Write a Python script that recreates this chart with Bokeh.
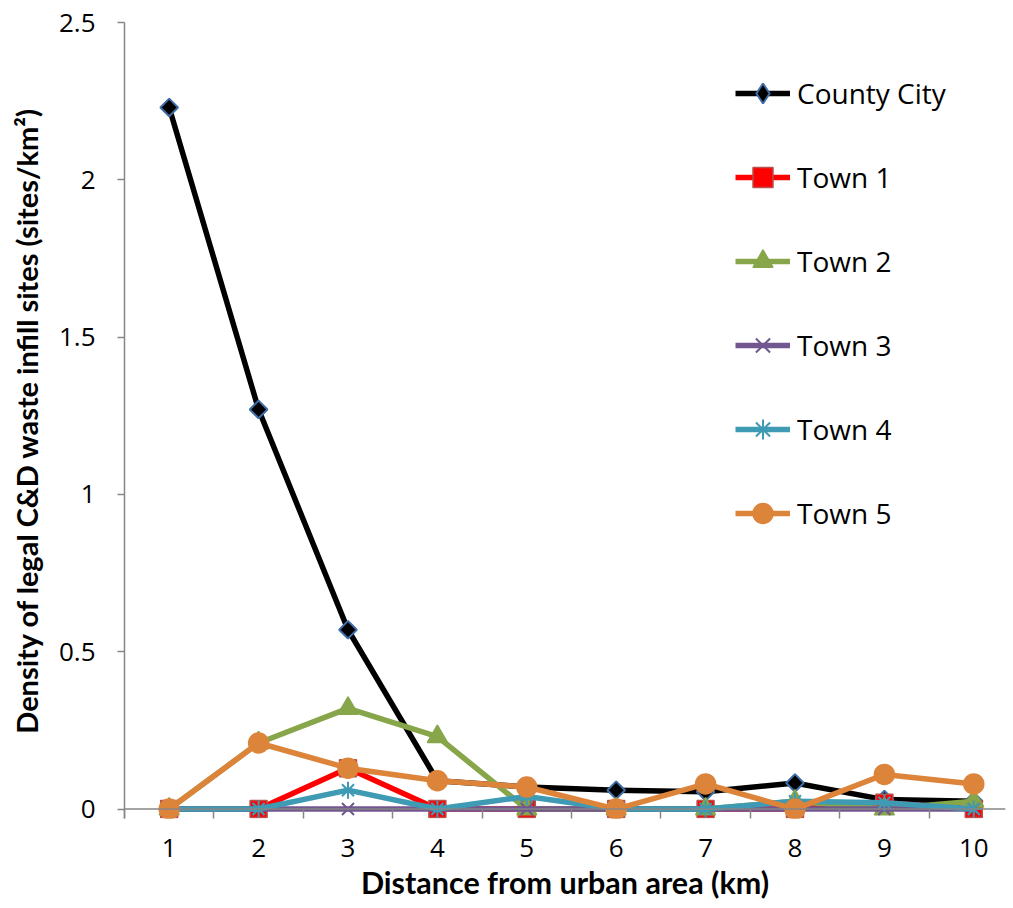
import math
from bokeh.plotting import figure
from bokeh.models import FixedTicker, Legend, LegendItem, Range1d, Span
from bokeh.embed import file_html
from bokeh.resources import INLINE

distance = [1, 2, 3, 4, 5, 6, 7, 8, 9, 10]
county_city = [2.23, 1.27, 0.57, 0.09, 0.07, 0.06, 0.055, 0.083, 0.03, 0.025]
town1 = [0, 0, 0.13, 0, 0, 0, 0, 0, 0.02, 0]
town2 = [0, 0.21, 0.32, 0.23, 0, 0, 0, 0.025, 0, 0.025]
town3 = [0, 0, 0, 0, 0, 0, 0, 0, 0, 0]
town4 = [0, 0, 0.06, 0, 0.04, 0, 0, 0.025, 0.02, 0]
town5 = [0, 0.21, 0.13, 0.09, 0.07, 0, 0.08, 0, 0.11, 0.08]
y_ticks = [0, 0.5, 1, 1.5, 2, 2.5]
y_labels = ["0", "0.5", "1", "1.5", "2", "2.5"]

FONT = "Open Sans"
TITLE_FONT = "Lato"
AXIS_COLOR = "#868686"

p = figure(width=1010, height=905, output_backend="svg", toolbar_location=None,
           x_range=Range1d(0.5, 10.355), y_range=Range1d(-0.03, 2.5),
           min_border_left=124, min_border_right=5, min_border_top=22,
           min_border_bottom=87)
p.outline_line_color = None
p.grid.visible = False
p.background_fill_color = "white"

# x axis line drawn at y = 0
p.add_layout(Span(location=0, dimension="width", line_color=AXIS_COLOR, line_width=1.5))

xa = p.xaxis[0]
xa.ticker = FixedTicker(ticks=distance, minor_ticks=[i + 0.5 for i in range(0, 11)])
xa.axis_line_color = None
xa.major_tick_line_color = None
xa.minor_tick_line_color = AXIS_COLOR
xa.minor_tick_line_width = 1.5
xa.minor_tick_in = 9
xa.minor_tick_out = 0
xa.major_label_text_font = FONT
xa.major_label_text_font_size = "26px"
xa.major_label_text_color = "black"
xa.major_label_standoff = 14
xa.axis_label = "Distance from urban area (km)"
xa.axis_label_text_font = TITLE_FONT
xa.axis_label_text_font_style = "bold"
xa.axis_label_text_font_size = "30.5px"
xa.axis_label_text_color = "black"
xa.axis_label_standoff = 4

ya = p.yaxis[0]
ya.ticker = FixedTicker(ticks=y_ticks)
ya.major_label_overrides = {t: l for t, l in zip(y_ticks, y_labels)}
ya.minor_tick_line_color = None
ya.major_tick_line_color = AXIS_COLOR
ya.major_tick_line_width = 1.5
ya.major_tick_out = 7
ya.major_tick_in = 0
ya.axis_line_color = AXIS_COLOR
ya.axis_line_width = 1.5
ya.major_label_text_font = FONT
ya.major_label_text_font_size = "26px"
ya.major_label_text_color = "black"
ya.major_label_standoff = 22
ya.axis_label = "Density of legal C&D waste infill sites (sites/km\u00b2)"
ya.axis_label_text_font = TITLE_FONT
ya.axis_label_text_font_style = "bold"
ya.axis_label_text_font_size = "29px"
ya.axis_label_text_color = "black"
ya.axis_label_standoff = 12

items = []

def series(name, ys, color, marker, size, fill, outline, mlw=1.5, angle=0.0, legend_marker=None):
    r1 = p.line(distance, ys, line_color=color, line_width=5.5, line_join="round")
    r2 = p.scatter(distance, ys, marker=marker, size=size, fill_color=fill,
                   line_color=outline, line_width=mlw, angle=angle)
    rs = [r1, r2]
    if legend_marker is not None:
        # legend-only proxy glyph (no data points drawn)
        proxy = p.scatter([float("nan")], [float("nan")], marker=legend_marker, size=size,
                          fill_color=fill, line_color=outline, line_width=mlw)
        rs = [r1, proxy]
    items.append(LegendItem(label=name, renderers=rs))

series("County City", county_city, "black", "square", 12.5, "black", "#3f6ea6", mlw=2,
       angle=math.pi / 4, legend_marker="diamond")
series("Town 1", town1, "#ff0000", "square", 17, "#ff0000", "#b8504d")
series("Town 2", town2, "#87a64a", "triangle", 20, "#87a64a", "#87a64a")
series("Town 3", town3, "#71568f", "x", 17, None, "#71568f", mlw=2)
series("Town 4", town4, "#3f9bb4", "asterisk", 17, None, "#3f9bb4", mlw=2)
series("Town 5", town5, "#dd843b", "circle", 20, "#dd843b", "#dd843b")

legend = Legend(items=items, location=(611, 280), orientation="vertical",
                glyph_width=55, glyph_height=50, label_height=50,
                spacing=34, padding=0, margin=0, border_line_color=None,
                background_fill_alpha=0, label_text_font=FONT,
                label_text_font_size="28px", label_text_color="black",
                label_standoff=7)
p.add_layout(legend, "center")

open("out.html", "w").write(file_html(p, INLINE))
